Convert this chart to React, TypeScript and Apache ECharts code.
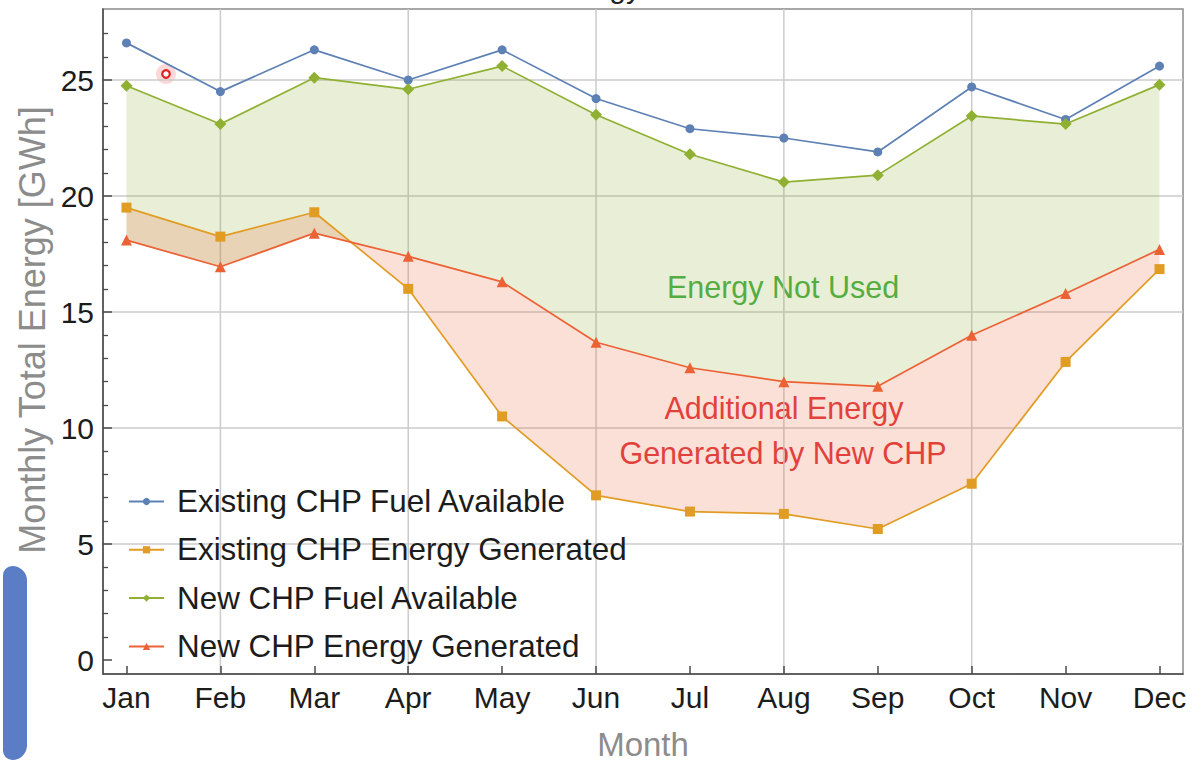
import React, { useEffect, useRef } from "react";
import * as echarts from "echarts";

const months = ["Jan", "Feb", "Mar", "Apr", "May", "Jun", "Jul", "Aug", "Sep", "Oct", "Nov", "Dec"];
const existingFuel = [26.6, 24.5, 26.3, 25.0, 26.3, 24.2, 22.9, 22.5, 21.9, 24.7, 23.3, 25.6];
const existingGenerated = [19.5, 18.25, 19.3, 16.0, 10.5, 7.1, 6.4, 6.3, 5.65, 7.6, 12.85, 16.85];
const newFuel = [24.75, 23.1, 25.1, 24.6, 25.6, 23.5, 21.8, 20.6, 20.9, 23.45, 23.1, 24.8];
const newGenerated = [18.1, 16.95, 18.4, 17.4, 16.3, 13.7, 12.6, 12.0, 11.8, 14.0, 15.8, 17.7];
const yMajorTicks = [0, 5, 10, 15, 20, 25];
const yGridValues = [5, 10, 15, 20, 25];
const yMinorTicks = [1, 2, 3, 4, 6, 7, 8, 9, 11, 12, 13, 14, 16, 17, 18, 19, 21, 22, 23, 24, 26, 27];
const gridMonths = ["Feb", "Apr", "Jun", "Aug", "Oct"];
const seriesNames = [
  "Existing CHP Fuel Available",
  "Existing CHP Energy Generated",
  "New CHP Fuel Available",
  "New CHP Energy Generated",
];

const FONT = "'Liberation Sans', Arial, sans-serif";
const GRID_GRAY = "#cbcbcb";
const AXIS_DARK = "#4a4a4a";
const X_MIN = -0.25;
const X_MAX = 11.25;
const Y_MIN = -0.6;
const Y_MAX = 28.06;

function band(upper: number[], lower: number[], fill: string) {
  return {
    type: "custom",
    silent: true,
    z: 1,
    data: upper.map((v, i) => [i, v, lower[i]]),
    encode: { x: 0, y: [1, 2] },
    renderItem: (params: any, api: any) => {
      if (params.dataIndex !== 0) return null;
      const top = upper.map((v, i) => api.coord([i, v]));
      const bot = lower.map((v, i) => api.coord([i, v])).reverse();
      return {
        type: "polygon",
        shape: { points: top.concat(bot) },
        style: { fill, stroke: "none" },
      };
    },
  };
}

function gridLines(xVals: number[], yVals: number[]) {
  return {
    type: "custom",
    silent: true,
    z: 0,
    data: [[0, 0]],
    encode: { x: 0, y: 1 },
    renderItem: (params: any, api: any) => {
      const children: any[] = [];
      xVals.forEach((x) => {
        const a = api.coord([x, Y_MIN]);
        const b = api.coord([x, Y_MAX]);
        children.push({
          type: "line",
          shape: { x1: a[0], y1: a[1], x2: b[0], y2: b[1] },
          style: { stroke: GRID_GRAY, lineWidth: 1.5 },
        });
      });
      yVals.forEach((y) => {
        const a = api.coord([X_MIN, y]);
        const b = api.coord([X_MAX, y]);
        children.push({
          type: "line",
          shape: { x1: a[0], y1: a[1], x2: b[0], y2: b[1] },
          style: { stroke: GRID_GRAY, lineWidth: 1.5 },
        });
      });
      return { type: "group", children };
    },
  };
}

function lineSeries(name: string, values: number[], color: string, symbol: string, size: number) {
  return {
    type: "line",
    name,
    z: 3,
    data: values.map((v, i) => [i, v]),
    symbol,
    symbolSize: size,
    showAllSymbol: true,
    lineStyle: { color, width: 1.7 },
    itemStyle: { color },
  };
}

export default function App() {
  const ref = useRef<HTMLDivElement>(null);
  useEffect(() => {
    if (!ref.current) return;
    const chart = echarts.init(ref.current, undefined, { renderer: "svg" });
    const monthIdx = months.map((_, i) => i);
    const gridMonthIdx = gridMonths.map((m) => months.indexOf(m));
    chart.setOption({
      animation: false,
      backgroundColor: "#ffffff",
      grid: {
        left: 103,
        right: 11,
        top: 9,
        bottom: 88,
        outerBoundsMode: "none",
        containLabel: false,
        show: true,
        borderColor: "#8a8a8a",
        borderWidth: 1.5,
      },
      legend: {
        data: seriesNames,
        orient: "vertical",
        left: 128,
        top: 486,
        padding: 0,
        itemWidth: 35,
        itemHeight: 9,
        itemGap: 17.3,
        textStyle: {
          fontSize: 31.4,
          lineHeight: 30,
          fontFamily: FONT,
          color: "#1c1c1c",
          padding: [0, 0, 0, 8],
        },
        lineStyle: { width: 2 },
      },
      xAxis: {
        type: "value",
        min: X_MIN,
        max: X_MAX,
        axisLine: { show: true, onZero: false, lineStyle: { color: AXIS_DARK, width: 1.5 } },
        axisTick: { show: true, inside: true, length: 8, customValues: monthIdx, lineStyle: { color: AXIS_DARK, width: 1.5 } },
        axisLabel: {
          customValues: monthIdx,
          formatter: (v: number) => months[Math.round(v)] ?? "",
          fontSize: 30,
          fontFamily: FONT,
          color: "#1c1c1c",
          margin: 8,
        },
        splitLine: { show: false },
        minorSplitLine: { show: false },
        name: "Month",
        nameLocation: "middle",
        nameGap: 54,
        nameTextStyle: { fontSize: 33, fontFamily: FONT, color: "#8c8c8c" },
      },
      yAxis: [
        {
          type: "value",
          min: Y_MIN,
          max: Y_MAX,
          axisLine: { show: true, onZero: false, lineStyle: { color: AXIS_DARK, width: 1.5 } },
          axisTick: { show: true, inside: true, length: 9, customValues: yMajorTicks, lineStyle: { color: AXIS_DARK, width: 1.5 } },
          axisLabel: {
            customValues: yMajorTicks,
            formatter: (v: number) => String(Math.round(v)),
            fontSize: 30,
            fontFamily: FONT,
            color: "#1c1c1c",
            margin: 9,
          },
          splitLine: { show: false },
        },
        {
          type: "value",
          min: Y_MIN,
          max: Y_MAX,
          position: "left",
          axisLine: { show: false, onZero: false },
          axisTick: { show: true, inside: true, length: 5, customValues: yMinorTicks, lineStyle: { color: AXIS_DARK, width: 1.3 } },
          axisLabel: { show: false },
          splitLine: { show: false },
        },
      ],
      series: [
        gridLines(gridMonthIdx, yGridValues),
        band(newFuel, newGenerated, "rgba(143,176,50,0.2)"),
        band(newGenerated, existingGenerated, "rgba(235,98,53,0.2)"),
        lineSeries(seriesNames[0], existingFuel, "#5e81b5", "circle", 9),
        lineSeries(seriesNames[1], existingGenerated, "#e19c24", "rect", 10),
        lineSeries(seriesNames[2], newFuel, "#8fb032", "diamond", 12),
        lineSeries(seriesNames[3], newGenerated, "#eb6235", "triangle", 11),
      ],
      graphic: [
        {
          type: "text",
          x: 641,
          y: 2,
          style: { text: "Energy", fontSize: 30, fontFamily: FONT, fill: "#222", align: "right", verticalAlign: "bottom" },
        },
        {
          type: "text",
          x: 32,
          y: 330,
          rotation: Math.PI / 2,
          style: {
            text: "Monthly Total Energy [GWh]",
            fontSize: 36,
            fontFamily: FONT,
            fill: "#8c8c8c",
            align: "center",
            verticalAlign: "middle",
          },
        },
        {
          type: "text",
          x: 783,
          y: 287,
          style: { text: "Energy Not Used", fontSize: 30.5, fontFamily: FONT, fill: "#46ad46", align: "center", verticalAlign: "middle" },
        },
        {
          type: "text",
          x: 784,
          y: 408,
          style: { text: "Additional Energy", fontSize: 30.5, fontFamily: FONT, fill: "#e0383d", align: "center", verticalAlign: "middle" },
        },
        {
          type: "text",
          x: 783,
          y: 453,
          style: { text: "Generated by New CHP", fontSize: 30.5, fontFamily: FONT, fill: "#e0383d", align: "center", verticalAlign: "middle" },
        },
        {
          type: "circle",
          shape: { cx: 166, cy: 74, r: 10 },
          style: { fill: "rgba(240,60,60,0.2)" },
          silent: true,
        },
        {
          type: "circle",
          shape: { cx: 166, cy: 74, r: 3.8 },
          style: { fill: "#ffffff", stroke: "#e02424", lineWidth: 2.2 },
          silent: true,
        },
        {
          type: "rect",
          shape: { x: 3, y: 566, width: 24, height: 194, r: [10, 16, 16, 10] },
          style: { fill: "#5a7dc5" },
          silent: true,
        },
      ],
    });
    return () => chart.dispose();
  }, []);
  return (
    <div
      ref={ref}
      style={{ position: "fixed", left: 0, top: 0, width: 1194, height: 762, background: "#fff" }}
    />
  );
}
